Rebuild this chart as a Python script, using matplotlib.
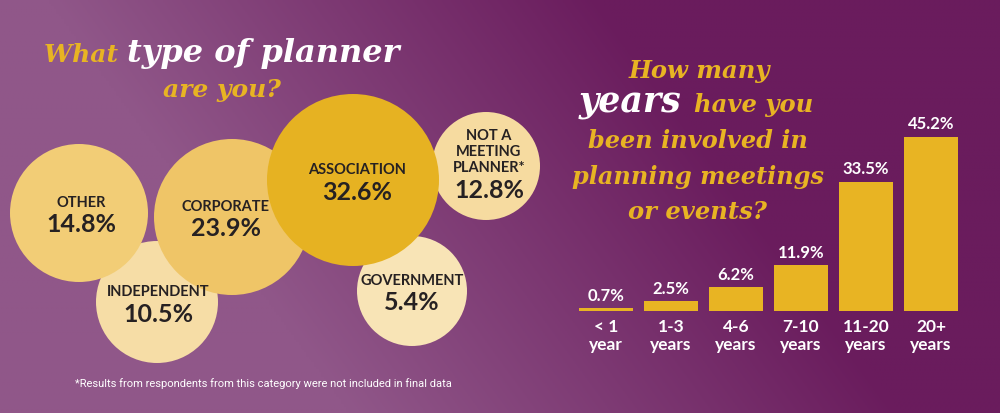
import numpy as np
import matplotlib.pyplot as plt
from matplotlib.patches import Circle
from matplotlib.colors import to_rgb

# planner types (bubbles)
planner_types = ["OTHER", "INDEPENDENT", "CORPORATE", "ASSOCIATION", "GOVERNMENT", "NOT A\nMEETING\nPLANNER*"]
planner_share = [14.8, 10.5, 23.9, 32.6, 5.4, 12.8]

# years in planning (bars)
year_labels = ["< 1\nyear", "1-3\nyears", "4-6\nyears", "7-10\nyears", "11-20\nyears", "20+\nyears"]
year_share = [0.7, 2.5, 6.2, 11.9, 33.5, 45.2]

# bubble layout in pixels: x, y (from top), radius, colour, draw order, label x
bubble_layout = [
    (79, 213, 69, "#F2CD76", 2, 81),
    (157, 302, 61, "#F6DDA6", 1, 158),
    (232, 217, 78, "#EFC567", 3, 226),
    (353, 180, 86, "#E6B222", 5, 357),
    (412, 291, 55, "#F8E4B6", 4, 412),
    (486, 166, 54, "#F6DBA0", 4, 489),
]

W, H = 1000, 413
GOLD = "#E8B423"
DARK = "#262122"
SERIF = "DejaVu Serif"
SANS = "Lato"

fig = plt.figure(figsize=(W / 100, H / 100), dpi=100)
bg = fig.add_axes([0, 0, 1, 1])
bg.set_xlim(0, W)
bg.set_ylim(H, 0)
bg.axis("off")

# background gradient
xx, yy = np.meshgrid(np.linspace(0, 1, 400), np.linspace(0, 1, 166))
t = np.clip((xx + 0.3 * (1 - yy) - 0.35) / 0.55, 0, 1)
c1 = np.array(to_rgb("#905789"))
c2 = np.array(to_rgb("#6A1C5D"))
img = c1[None, None, :] * (1 - t[..., None]) + c2[None, None, :] * t[..., None]
bg.imshow(img, extent=[0, W, H, 0], aspect="auto", zorder=0)

# bubbles
for name, val, (cx, cy, r, col, z, lx) in zip(planner_types, planner_share, bubble_layout):
    bg.add_patch(Circle((cx, cy), r, facecolor=col, edgecolor="none", zorder=z))
    n = name.count("\n")
    name_y = cy - 10 - 2 * n
    bg.text(lx, name_y, name, ha="center", va="center", fontsize=10.5, fontweight="bold",
            color=DARK, family=SANS, linespacing=1.2, zorder=20)
    bg.text(lx, name_y + 22 + n * 8, f"{val}%", ha="center", va="center", fontsize=18,
            fontweight="bold", color=DARK, family=SANS, zorder=20)

fig.canvas.draw()
renderer = fig.canvas.get_renderer()


def line_of_pieces(x0, y, pieces):
    # pieces drawn one after another along a baseline
    x = x0
    for txt, col, size in pieces:
        t = bg.text(x, y, txt, ha="left", va="baseline", fontsize=size, color=col,
                    family=SERIF, fontweight="bold", fontstyle="italic", zorder=10)
        bb = t.get_window_extent(renderer)
        x += bb.width


def serif_center(x, y, txt, col=GOLD, size=18):
    bg.text(x, y, txt, ha="center", va="baseline", fontsize=size, color=col,
            family=SERIF, fontweight="bold", fontstyle="italic", zorder=10)


line_of_pieces(44, 62, [("What ", GOLD, 18), ("type of planner", "white", 23)])
serif_center(222, 97, "are you?", size=18)

serif_center(699, 78, "How many", size=17.5)
line_of_pieces(579, 112, [("years ", "white", 25), ("have you", GOLD, 17.5)])
serif_center(698, 148, "been involved in", size=17.3)
serif_center(698, 184, "planning meetings", size=17.3)
serif_center(698, 219, "or events?", size=17.5)

bg.text(75, 384, "*Results from respondents from this category were not included in final data",
        ha="left", va="center", fontsize=8.0, color="white", family="Roboto", zorder=10)

# bar chart
ax = fig.add_axes([573.5 / W, (H - 311) / H, 390 / W, 192.5 / H])
ax.patch.set_alpha(0)
x = np.arange(len(year_share))
ax.bar(x, year_share, width=0.83, color=GOLD)
for xi, v in zip(x, year_share):
    ax.text(xi, v + 1.2, f"{v}%", ha="center", va="bottom", fontsize=12, color="white",
            family=SANS, fontweight="bold")
ax.set_xlim(-0.5, len(year_share) - 0.5)
ax.set_ylim(0, 50)
ax.set_xticks(x)
ax.set_xticklabels(year_labels, color="white", fontsize=12.5, fontweight="bold", family=SANS,
                   linespacing=1.1)
ax.tick_params(axis="x", length=0, pad=6)
ax.set_yticks([])
for s in ax.spines.values():
    s.set_visible(False)

fig.savefig("out.png", dpi=100)
